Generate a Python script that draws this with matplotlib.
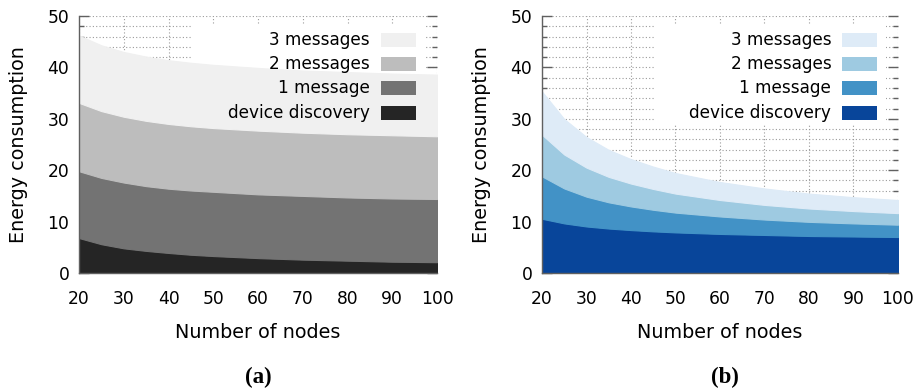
import numpy as np
import matplotlib
matplotlib.use("Agg")
import matplotlib.pyplot as plt
from matplotlib.patches import Rectangle
from matplotlib.ticker import MultipleLocator

plt.rcParams['font.family'] = ['DejaVu Sans']

# Number of nodes in the network
nodes = [20, 25, 30, 35, 40, 45, 50, 60, 70, 80, 90, 100]

# Panel (a): energy per component, stacked bottom to top
discovery_a = [6.8, 5.6, 4.8, 4.3, 3.9, 3.55, 3.3, 2.9, 2.6, 2.4, 2.2, 2.1]
one_msg_a   = [13.0, 12.9, 12.8, 12.6, 12.5, 12.5, 12.5, 12.4, 12.4, 12.3, 12.3, 12.3]
two_msg_a   = [13.3, 13.0, 12.8, 12.7, 12.6, 12.5, 12.4, 12.4, 12.3, 12.3, 12.3, 12.2]
three_msg_a = [13.1, 12.8, 12.6, 12.5, 12.4, 12.35, 12.3, 12.2, 12.1, 12.1, 12.0, 12.0]

# Panel (b): energy per component, stacked bottom to top
discovery_b = [10.55, 9.65, 9.05, 8.65, 8.35, 8.1, 7.9, 7.6, 7.4, 7.2, 7.1, 7.0]
one_msg_b   = [8.25, 6.8, 5.8, 5.1, 4.6, 4.2, 3.85, 3.4, 3.0, 2.75, 2.55, 2.4]
two_msg_b   = [8.1, 6.6, 5.65, 4.95, 4.45, 4.05, 3.7, 3.2, 2.85, 2.6, 2.4, 2.25]
three_msg_b = [8.4, 6.9, 5.95, 5.25, 4.75, 4.35, 4.0, 3.5, 3.2, 2.9, 2.7, 2.55]

series_labels = ["device discovery", "1 message", "2 messages", "3 messages"]
x_ticks = [20, 30, 40, 50, 60, 70, 80, 90, 100]
y_ticks = [0, 10, 20, 30, 40, 50]

greys = ["#252525", "#737373", "#bdbdbd", "#f0f0f0"]
blues = ["#08459a", "#4292c6", "#9ecae1", "#deebf7"]

fig = plt.figure(figsize=(9.24, 3.89), dpi=100)

W, H = 924, 389


def make_axes(left_px, right_px, top_px=16, bottom_px=273):
    return fig.add_axes([left_px / W, 1 - bottom_px / H,
                         (right_px - left_px) / W, (bottom_px - top_px) / H])


def draw_panel(ax, layers, colors, caption, caption_x):
    x = np.array(nodes, dtype=float)
    base = np.zeros_like(x)
    for vals, col in zip(layers, colors):
        top = base + np.array(vals)
        ax.fill_between(x, base, top, facecolor=col, edgecolor=col,
                        linewidth=0.8, zorder=1)
        base = top

    ax.set_xlim(20, 100)
    ax.set_ylim(0, 50)
    ax.set_xticks(x_ticks)
    ax.set_yticks(y_ticks)
    ax.yaxis.set_minor_locator(MultipleLocator(2))
    ax.set_axisbelow(True)

    ax.grid(True, which='major', axis='x', color='#9a9a9a',
            linestyle=(0, (1, 2)), linewidth=0.8)
    ax.grid(True, which='both', axis='y', color='#9a9a9a',
            linestyle=(0, (1, 2)), linewidth=0.8)

    for side in ('top', 'right'):
        ax.spines[side].set_visible(False)
    for side in ('left', 'bottom'):
        ax.spines[side].set_color('#606060')
        ax.spines[side].set_linewidth(1.0)

    ax.tick_params(axis='y', which='major', direction='in', length=7,
                   width=1, color='#606060', right=True, labelsize=12.3,
                   pad=7)
    ax.tick_params(axis='y', which='minor', direction='in', length=3.5,
                   width=1, color='#606060', right=True)
    ax.tick_params(axis='x', which='both', length=0, labelsize=12.3, pad=12)

    ax.set_xlabel("Number of nodes", fontsize=13.8, labelpad=11)
    ax.set_ylabel("Energy consumption", fontsize=13.8, labelpad=14)

    # key: blank box over the grid, then swatches and labels
    ax.add_patch(Rectangle((0.315, 0.58), 0.65, 0.385, transform=ax.transAxes,
                           facecolor='white', edgecolor='none', zorder=0.8))
    rows = [0.6226, 0.7198, 0.8132, 0.9066]
    for label, col, ry in zip(series_labels, colors, rows):
        ax.text(0.8128, ry, label, transform=ax.transAxes, ha='right',
                va='center', fontsize=12.2, zorder=4)
        ax.add_patch(Rectangle((0.8436, ry - 0.029), 0.098, 0.058,
                               transform=ax.transAxes, facecolor=col,
                               edgecolor='none', zorder=4))

    fig.text(caption_x / W, 1 - 377 / H, caption, ha='center', va='center',
             fontsize=16.5, fontweight='bold', family='Liberation Serif')


ax_a = make_axes(79, 437)
draw_panel(ax_a, [discovery_a, one_msg_a, two_msg_a, three_msg_a], greys,
           "(a)", 258)

ax_b = make_axes(542, 898)
draw_panel(ax_b, [discovery_b, one_msg_b, two_msg_b, three_msg_b], blues,
           "(b)", 725)

fig.savefig("out.png", dpi=100)
